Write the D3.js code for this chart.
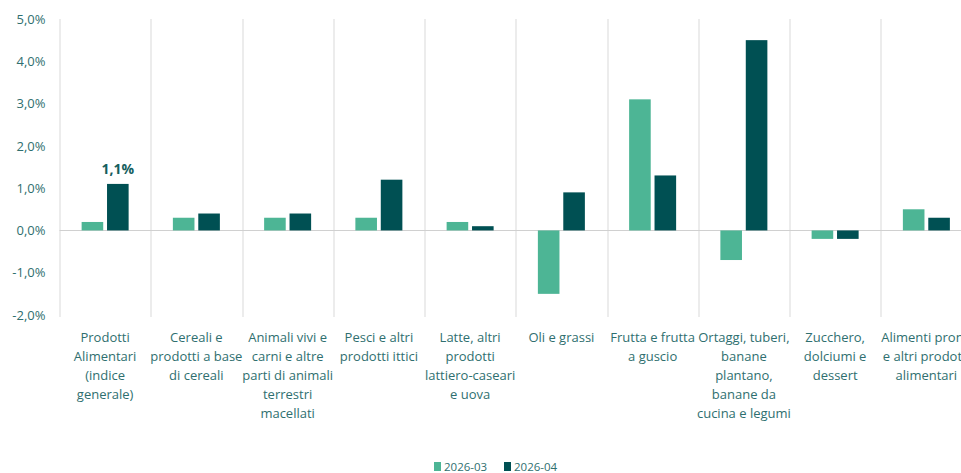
<!DOCTYPE html>
<html>
<head>
<meta charset="utf-8">
<script src="https://cdn.jsdelivr.net/npm/d3@7"></script>
<style>
  body { margin: 0; background: #fff; font-family: "Open Sans", sans-serif; }
  svg text { fill: #2f6f6f; }
</style>
</head>
<body>
<script>
// Chart data
var categories = [
  ["Prodotti", "Alimentari", "(indice", "generale)"],
  ["Cereali e", "prodotti a base", "di cereali"],
  ["Animali vivi e", "carni e altre", "parti di animali", "terrestri", "macellati"],
  ["Pesci e altri", "prodotti ittici"],
  ["Latte, altri", "prodotti", "lattiero-caseari", "e uova"],
  ["Oli e grassi"],
  ["Frutta e frutta", "a guscio"],
  ["Ortaggi, tuberi,", "banane", "plantano,", "banane da", "cucina e legumi"],
  ["Zucchero,", "dolciumi e", "dessert"],
  ["Alimenti pronti", "e altri prodotti", "alimentari"]
];
var seriesNames = ["2026-03", "2026-04"];
var values2026_03 = [0.2, 0.3, 0.3, 0.3, 0.2, -1.5, 3.1, -0.7, -0.2, 0.5];
var values2026_04 = [1.1, 0.4, 0.4, 1.2, 0.1, 0.9, 1.3, 4.5, -0.2, 0.3];
var yTicks = [-2, -1, 0, 1, 2, 3, 4, 5];
var colors = ["#4db595", "#005053"];

var svgWidth = 961;
var svgHeight = 473;

var margin = { top: 19, right: -11, bottom: 158, left: 59.5 };
var chartWidth = svgWidth - margin.left - margin.right;
var chartHeight = svgHeight - margin.top - margin.bottom;

var svg = d3.select("body")
  .append("svg")
  .attr("width", svgWidth)
  .attr("height", svgHeight);

var chartGroup = svg.append("g")
  .attr("transform", `translate(${margin.left}, ${margin.top})`);

var idx = d3.range(categories.length);

var xScale = d3.scaleBand()
  .domain(idx)
  .range([0, chartWidth]);

var xInner = d3.scaleBand()
  .domain([0, 1])
  .range([0, 47])
  .paddingInner(0.15);

var yScale = d3.scaleLinear()
  .domain([-2, 5])
  .range([chartHeight, 0]);

// vertical separators
chartGroup.selectAll(".sep")
  .data(d3.range(categories.length + 1))
  .enter()
  .append("line")
  .attr("x1", d => Math.round(d * xScale.step()) + 0.5)
  .attr("x2", d => Math.round(d * xScale.step()) + 0.5)
  .attr("y1", 0)
  .attr("y2", chartHeight + 2)
  .attr("stroke", "#d9d9d9")
  .attr("stroke-width", 1);

// zero line
chartGroup.append("line")
  .attr("x1", 0)
  .attr("x2", chartWidth)
  .attr("y1", Math.round(yScale(0)) + 0.5)
  .attr("y2", Math.round(yScale(0)) + 0.5)
  .attr("stroke", "#d0d0d0")
  .attr("stroke-width", 1);

// y axis labels
var leftAxis = d3.axisLeft(yScale)
  .tickValues(yTicks)
  .tickSize(0)
  .tickPadding(14)
  .tickFormat(d => d.toFixed(1).replace(".", ",") + "%");

var yAxisG = chartGroup.append("g").call(leftAxis);
yAxisG.select(".domain").remove();
yAxisG.selectAll("text")
  .style("font-family", "Open Sans")
  .style("font-size", "13px")
  .style("fill", "#2f6f6f");

// bars
var seriesData = [values2026_03, values2026_04];
seriesData.forEach(function(vals, s) {
  chartGroup.selectAll(".bar" + s)
    .data(vals)
    .enter()
    .append("rect")
    .attr("x", (d, i) => xScale(i) + xScale.bandwidth() / 2 - 23.5 + xInner(s))
    .attr("width", xInner.bandwidth())
    .attr("y", d => yScale(Math.max(0, d)))
    .attr("height", d => Math.abs(yScale(d) - yScale(0)))
    .attr("fill", colors[s]);
});

// data label on first dark bar
chartGroup.append("text")
  .attr("x", xScale(0) + xScale.bandwidth() / 2 - 23.5 + xInner(1) + xInner.bandwidth() / 2)
  .attr("y", yScale(values2026_04[0]) - 10)
  .attr("text-anchor", "middle")
  .style("font-size", "14px")
  .style("font-weight", "bold")
  .style("fill", "#155e5e")
  .text(values2026_04[0].toFixed(1).replace(".", ",") + "%");

// category labels
var catGroup = chartGroup.selectAll(".cat")
  .data(categories)
  .enter()
  .append("text")
  .attr("text-anchor", "middle")
  .style("font-size", "13px")
  .attr("transform", (d, i) => `translate(${xScale(i) + xScale.bandwidth() / 2}, ${chartHeight + 27})`);

catGroup.selectAll("tspan")
  .data(d => d)
  .enter()
  .append("tspan")
  .attr("x", 0)
  .attr("y", (d, i) => i * 19)
  .text(d => d);

// legend
var legend = svg.append("g")
  .attr("transform", "translate(434, 467)");

var legendItems = legend.selectAll(".legend")
  .data(seriesNames)
  .enter()
  .append("g")
  .attr("transform", (d, i) => `translate(${i * 70}, 0)`);

legendItems.append("rect")
  .attr("x", 0)
  .attr("y", -5)
  .attr("width", 7)
  .attr("height", 9)
  .attr("fill", (d, i) => colors[i]);

legendItems.append("text")
  .attr("x", 10)
  .attr("y", 4)
  .style("font-size", "11.5px")
  .text(d => d);
</script>
</body>
</html>
